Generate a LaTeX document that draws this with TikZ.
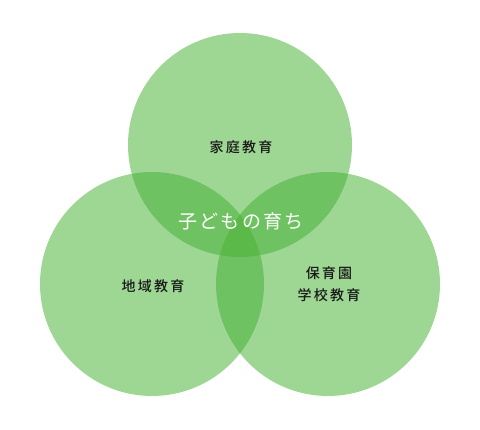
\documentclass[tikz,border=0pt]{standalone}
\usepackage{fontspec}
\setmainfont{Noto Sans CJK JP}
\newfontfamily\jpfont[LetterSpace=16]{Noto Sans CJK JP Medium}
\newfontfamily\jplight[LetterSpace=12]{Noto Sans CJK JP}
\usetikzlibrary{calc}
\definecolor{leaf}{RGB}{71,177,52}

\begin{document}
\begin{tikzpicture}[x=1pt,y=-1pt,
  ring/.style={fill=leaf,fill opacity=0.53},
  lbl/.style={font=\jpfont\fontsize{14}{22}\selectfont,align=center,text=black!90}]
\useasboundingbox (0,0) rectangle (480,430);

%centres des cercles
\coordinate(c1) at (240,145);
\coordinate(c2) at (152,284);
\coordinate(c3) at (328,284);

\foreach \k in {1,2,3}
{\fill[ring] (c\k) circle (112);}

\node[lbl](home) at (241,147) {家庭教育};
\node[lbl](area) at (153,286) {地域教育};
\node[lbl](school) at (329,284) {保育園\\学校教育};
\node[font=\jplight\fontsize{19}{22}\selectfont,text=white](child) at (241,221) {子どもの育ち};

\end{tikzpicture}
\end{document}
